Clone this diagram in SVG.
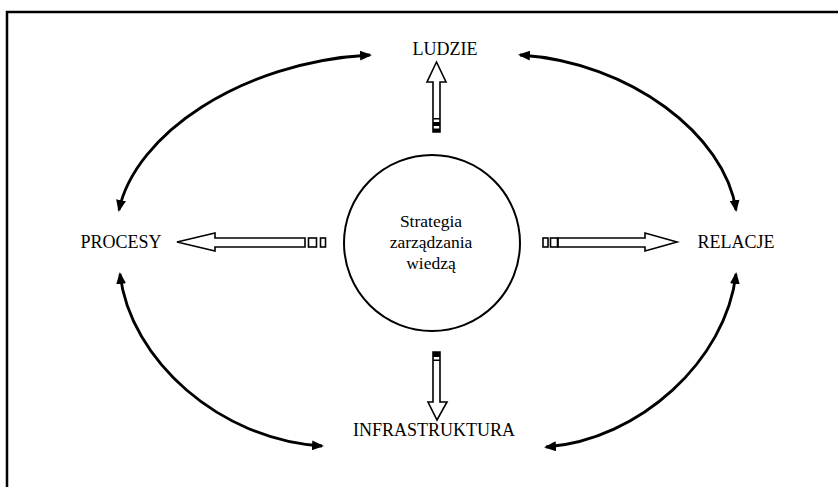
<svg xmlns="http://www.w3.org/2000/svg" width="838" height="487" viewBox="0 0 838 487">
  <style>
    .label { font-family: "Liberation Serif", "Times New Roman", serif; font-size: 18px; fill: #000; text-anchor: middle; }
    .core { font-family: "Liberation Serif", "Times New Roman", serif; font-size: 17.5px; fill: #000; text-anchor: middle; }
    .frame { stroke: #000; stroke-width: 2.5; fill: none; }
    .link { stroke: #000; stroke-width: 2.8; fill: none; marker-start: url(#head); marker-end: url(#head); }
    .block { fill: #fff; stroke: #000; stroke-width: 1.6; stroke-linejoin: miter; }
    .tick { fill: #000; }
  </style>
  <defs>
    <marker id="head" viewBox="0 0 12 10" refX="10" refY="5" markerWidth="12" markerHeight="10" markerUnits="userSpaceOnUse" orient="auto-start-reverse">
      <path d="M0,0 L12,5 L0,10 Z" fill="#000"/>
    </marker>
  </defs>

  <rect width="838" height="487" fill="#fff"/>

  <!-- frame: top and left rules -->
  <path class="frame" d="M7,487 L7,12 L838,12"/>

  <!-- curved two-way connectors between the outer elements -->
  <g id="connectors">
    <path class="link" d="M370,55 C240,62 135,135 119,210"/>
    <path class="link" d="M520,55 C630,62 725,135 736,210"/>
    <path class="link" d="M120,274 C130,360 220,440 322,446"/>
    <path class="link" d="M736,274 C726,360 640,440 546,447"/>

    <!-- hollow block arrows radiating from the centre -->
    <g id="arrow-up">
      <polygon class="block" points="433,132 433,82 427,82 436.5,62 446,82 440,82 440,132"/>
      <rect class="tick" x="433" y="118" width="7" height="1.5"/>
      <rect class="tick" x="433" y="122" width="7" height="4"/>
      <rect class="tick" x="433" y="128.5" width="7" height="3.5"/>
    </g>
    <g id="arrow-left">
      <polygon class="block" points="305,238 215,238 215,233 177,242 215,251 215,247 305,247"/>
      <rect class="block" x="308.5" y="238" width="8" height="9"/>
      <rect class="block" x="320.5" y="238" width="5" height="9"/>
    </g>
    <g id="arrow-right">
      <polygon class="block" points="558,238 645,238 645,233 677,242 645,251 645,247 558,247"/>
      <rect class="block" x="543" y="238" width="5" height="9"/>
      <rect class="block" x="550.5" y="238" width="7" height="9"/>
    </g>
    <g id="arrow-down">
      <polygon class="block" points="433,352 440,352 440,402 447,402 437,420 428,402 433,402"/>
      <rect class="tick" x="433" y="352" width="7" height="5"/>
      <rect class="tick" x="433" y="359.5" width="7" height="1.5"/>
    </g>
  </g>

  <g id="strategy">
    <circle cx="432" cy="243" r="88" fill="none" stroke="#000" stroke-width="2"/>
    <text class="core" x="431" y="227">Strategia</text>
    <text class="core" x="431" y="248">zarządzania</text>
    <text class="core" x="431" y="269">wiedzą</text>
  </g>

  <g id="ludzie">
    <text class="label" x="445" y="55">LUDZIE</text>
  </g>
  <g id="procesy">
    <text class="label" x="121" y="248">PROCESY</text>
  </g>
  <g id="relacje">
    <text class="label" x="736" y="248">RELACJE</text>
  </g>
  <g id="infrastruktura">
    <text class="label" x="434" y="436">INFRASTRUKTURA</text>
  </g>
</svg>
